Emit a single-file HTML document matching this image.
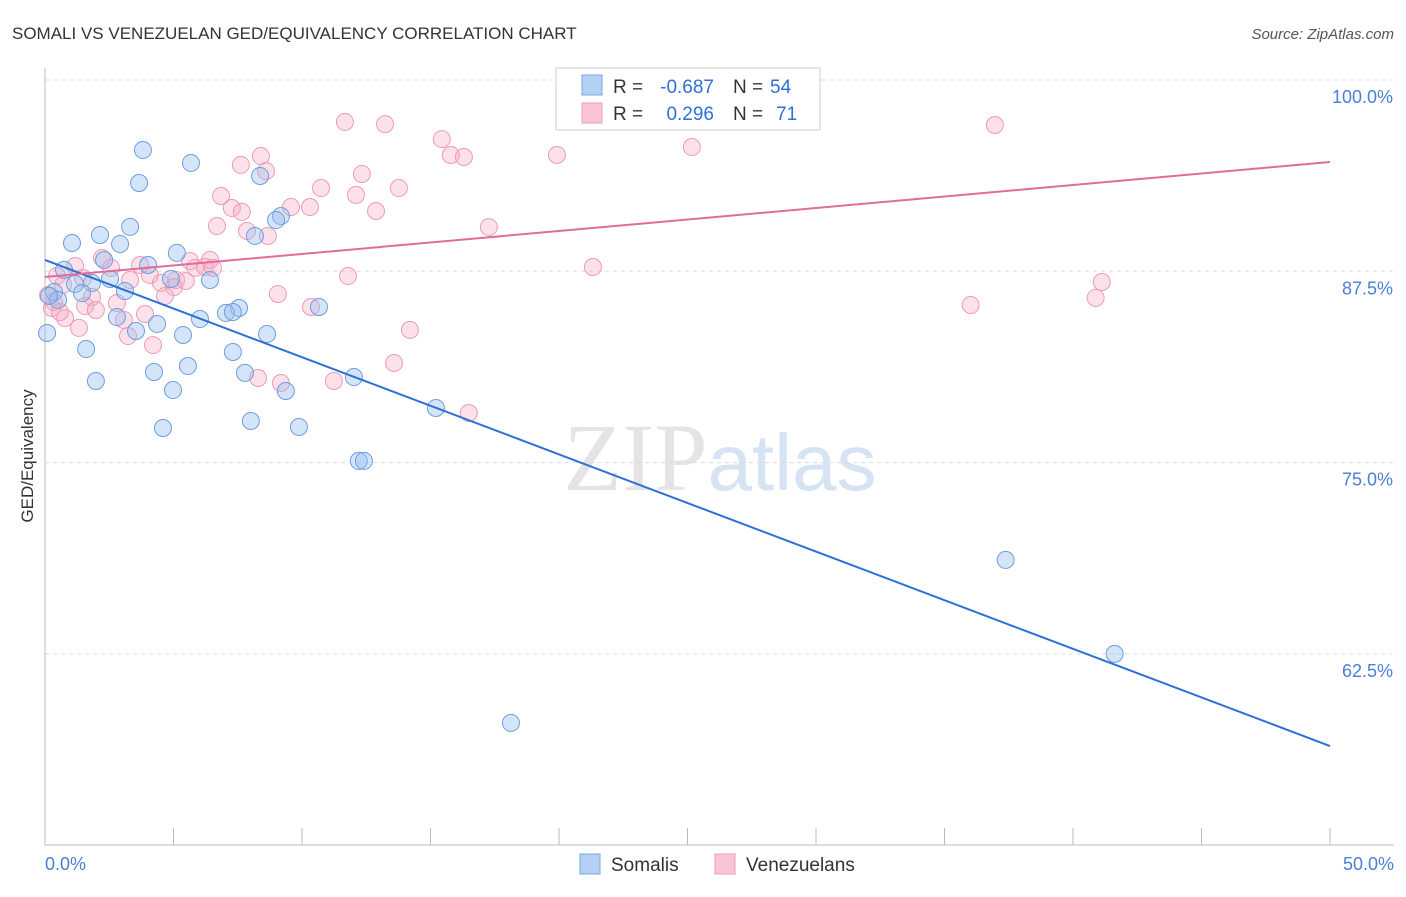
<!DOCTYPE html>
<html><head><meta charset="utf-8"><style>
body{margin:0;background:#fff;font-family:"Liberation Sans",sans-serif}
svg text{font-family:"Liberation Sans",sans-serif}
</style></head><body>
<svg width="1406" height="892" viewBox="0 0 1406 892">
<text x="12" y="39" font-size="17" fill="#333">SOMALI VS VENEZUELAN GED/EQUIVALENCY CORRELATION CHART</text>
<text x="1394" y="39" font-size="15" fill="#555" font-style="italic" text-anchor="end">Source: ZipAtlas.com</text>
<text x="720" y="490" font-size="96" fill="#e4e4e4" text-anchor="middle" font-family="Liberation Serif"><tspan font-family="Liberation Serif">ZIP</tspan><tspan fill="#d6e3f3" font-family="Liberation Sans" font-size="80">atlas</tspan></text>
<g id="grid"></g>
<line x1="45" y1="68" x2="45" y2="845" stroke="#bbb"/>
<line x1="45" y1="845" x2="1394" y2="845" stroke="#bbb"/>
<text x="33" y="456" font-size="17" fill="#333" text-anchor="middle" transform="rotate(-90 33 456)">GED/Equivalency</text>
<text x="45" y="870" font-size="18" fill="#4a7fd6">0.0%</text>
<text x="1394" y="870" font-size="18" fill="#4a7fd6" text-anchor="end">50.0%</text>
<g id="pts"></g>
<g id="lines"></g>
<g>
<rect x="556" y="68" width="264" height="62" fill="#fff" stroke="#ccc"/>
<rect x="582" y="75" width="20" height="20" fill="#b4d0f4" stroke="#7aa7e3"/>
<rect x="582" y="103" width="20" height="20" fill="#f9c4d4" stroke="#ee9cb8"/>
<text x="613" y="93" font-size="19" fill="#333">R =</text>
<text x="714" y="93" font-size="19" fill="#2e6fd8" text-anchor="end">-0.687</text>
<text x="733" y="93" font-size="19" fill="#333">N =</text>
<text x="770" y="93" font-size="19" fill="#2e6fd8">54</text>
<text x="613" y="120" font-size="19" fill="#333">R =</text>
<text x="714" y="120" font-size="19" fill="#2e6fd8" text-anchor="end">0.296</text>
<text x="733" y="120" font-size="19" fill="#333">N =</text>
<text x="776" y="120" font-size="19" fill="#2e6fd8">71</text>
</g>
<g><rect x="580" y="854" width="20" height="20" fill="#b4d0f4" stroke="#7aa7e3"/><text x="611" y="871" font-size="19" fill="#333">Somalis</text></g>
<g><rect x="715" y="854" width="20" height="20" fill="#f9c4d4" stroke="#ee9cb8"/><text x="746" y="871" font-size="19" fill="#333">Venezuelans</text></g>
</svg>
<script>
const yTicks=[100,87.5,75,62.5];
const yTickLabels=["100.0%","87.5%","75.0%","62.5%"];
const xTicks=[0,5,10,15,20,25,30,35,40,45,50];
const somaliX=[3.81,5.68,3.66,8.37,9.18,8.99,3.31,2.14,1.05,2.92,8.17,5.13,2.30,4.01,0.74,2.53,4.90,6.42,1.17,1.83,0.35,1.44,3.11,0.51,10.66,7.55,7.04,7.31,2.80,6.03,4.36,3.54,5.37,8.64,0.08,1.60,7.31,4.24,5.56,7.78,1.98,4.98,9.37,12.02,15.21,4.59,8.01,9.88,12.21,12.41,37.38,41.62,18.13,0.16];
const somaliY=[95.43,94.58,93.27,93.73,91.11,90.85,90.40,89.87,89.35,89.28,89.81,88.70,88.24,87.91,87.59,87.00,87.00,86.93,86.67,86.74,86.15,86.08,86.21,85.63,85.17,85.10,84.78,84.84,84.51,84.38,84.06,83.60,83.34,83.40,83.47,82.42,82.23,80.92,81.31,80.86,80.33,79.74,79.68,80.59,78.57,77.26,77.72,77.33,75.11,75.11,68.64,62.50,57.99,85.89];
const venezX=[11.67,13.23,36.96,15.44,15.79,16.30,19.92,25.17,8.40,7.62,8.60,12.33,10.74,13.77,6.85,12.10,10.31,9.57,7.27,7.66,12.88,6.69,17.27,7.86,8.67,2.22,3.70,5.64,6.42,5.84,6.22,1.17,2.57,0.47,21.32,11.79,1.48,3.31,4.08,5.10,4.51,5.48,41.12,0.70,5.02,9.06,1.83,4.67,40.88,36.02,0.35,1.56,2.80,10.35,1.98,3.89,0.78,3.07,14.20,1.32,3.23,4.20,13.58,8.29,9.18,11.24,16.49,0.27,0.58,6.54,0.12];
const venezY=[97.26,97.12,97.06,96.14,95.10,94.97,95.10,95.62,95.03,94.45,94.05,93.86,92.94,92.94,92.42,92.49,91.70,91.70,91.64,91.38,91.44,90.46,90.39,90.13,89.81,88.37,87.91,88.17,88.24,87.72,87.78,87.85,87.72,87.19,87.78,87.19,87.06,86.93,87.26,86.93,86.74,86.87,86.80,86.61,86.47,86.02,85.82,85.89,85.76,85.30,85.49,85.23,85.43,85.17,84.97,84.71,84.45,84.32,83.67,83.80,83.27,82.68,81.51,80.53,80.20,80.33,78.24,85.10,84.84,87.72,85.95];
const somaliTrend=[88.24,56.48];
const venezTrend=[87.13,94.64];
const NS="http://www.w3.org/2000/svg";
const sx=v=>45+v/50*1285;
const sy=v=>80+(100-v)/12.5*191.3;
function mk(t,a,p){const e=document.createElementNS(NS,t);for(const k in a)e.setAttribute(k,a[k]);p.appendChild(e);return e;}
const grid=document.getElementById('grid');
yTicks.forEach((t,i)=>{
 const l=mk('line',{x1:45,x2:1394,y1:sy(t),y2:sy(t),stroke:'#ddd','stroke-dasharray':'4,4'},grid);
 
 
 const tx=mk('text',{x:1393,y:sy(t)+23,'font-size':18,fill:'#4a7fd6','text-anchor':'end'},grid);
 tx.textContent=yTickLabels[i];
 
 
});
xTicks.forEach(t=>{
 const l=mk('line',{x1:sx(t),x2:sx(t),y1:828,y2:845,stroke:'#bbb'},grid);
 
 
});
const pts=document.getElementById('pts');
venezX.forEach((x,i)=>{
 const c=mk('circle',{cx:sx(x),cy:sy(venezY[i]),r:8.5,fill:'rgba(246,170,196,0.35)',stroke:'#ef9ab7','stroke-width':1},pts);
 
 
});
somaliX.forEach((x,i)=>{
 const c=mk('circle',{cx:sx(x),cy:sy(somaliY[i]),r:8.5,fill:'rgba(150,190,240,0.4)',stroke:'#6c9de0','stroke-width':1},pts);
 
 
});
const lines=document.getElementById('lines');
const bl=mk('line',{x1:sx(0),y1:sy(somaliTrend[0]),x2:sx(50),y2:sy(somaliTrend[1]),stroke:'#2e6fd8','stroke-width':2},lines);


const pl=mk('line',{x1:sx(0),y1:sy(venezTrend[0]),x2:sx(50),y2:sy(venezTrend[1]),stroke:'#e06c98','stroke-width':2},lines);


</script>
</body></html>
